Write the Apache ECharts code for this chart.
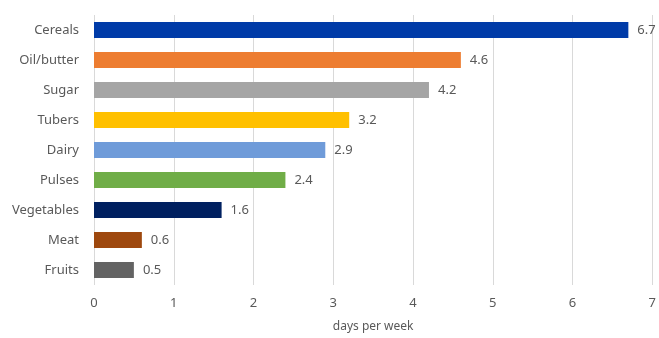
<!DOCTYPE html>
<html>
<head>
<meta charset="utf-8">
<script src="https://cdn.jsdelivr.net/npm/echarts@6/dist/echarts.min.js"></script>
<style>
  html, body { margin: 0; padding: 0; background: #fff; }
  #chart { width: 659px; height: 338px; }
</style>
</head>
<body>
<div id="chart"></div>
<script>
// categories listed bottom to top (category axis starts at the bottom)
var categories = ['Fruits', 'Meat', 'Vegetables', 'Pulses', 'Dairy', 'Tubers', 'Sugar', 'Oil/butter', 'Cereals'];
var values = [0.5, 0.6, 1.6, 2.4, 2.9, 3.2, 4.2, 4.6, 6.7];
var barColors = ['#636363', '#9E480E', '#002060', '#70AD47', '#6F9BD9', '#FFC000', '#A5A5A5', '#ED7D31', '#003BA8'];
var xTicks = [0, 1, 2, 3, 4, 5, 6, 7];

var font = '"Noto Sans", sans-serif';
var chart = echarts.init(document.getElementById('chart'));
chart.setOption({
  animation: false,
  grid: { left: 94, right: 5, top: 15, bottom: 53 },
  xAxis: {
    type: 'value',
    min: xTicks[0],
    max: xTicks[xTicks.length - 1],
    interval: 1,
    name: 'days per week',
    nameLocation: 'middle',
    nameGap: 36,
    nameTextStyle: { color: '#595959', fontSize: 12, fontFamily: font },
    axisLine: { show: false },
    axisTick: { show: false },
    axisLabel: { color: '#595959', fontSize: 13, fontFamily: font, margin: 12 },
    splitLine: { show: true, lineStyle: { color: '#D9D9D9', width: 1 } }
  },
  yAxis: {
    type: 'category',
    data: categories,
    axisLine: { show: false },
    axisTick: { show: false },
    axisLabel: { color: '#595959', fontSize: 13, fontFamily: font, margin: 15 }
  },
  series: [{
    type: 'bar',
    data: values.map(function (v, i) {
      return { value: v, itemStyle: { color: barColors[i] } };
    }),
    barWidth: 16,
    label: {
      show: true,
      position: 'right',
      distance: 9,
      color: '#595959',
      fontSize: 13,
      fontFamily: font
    }
  }]
});
</script>
</body>
</html>
